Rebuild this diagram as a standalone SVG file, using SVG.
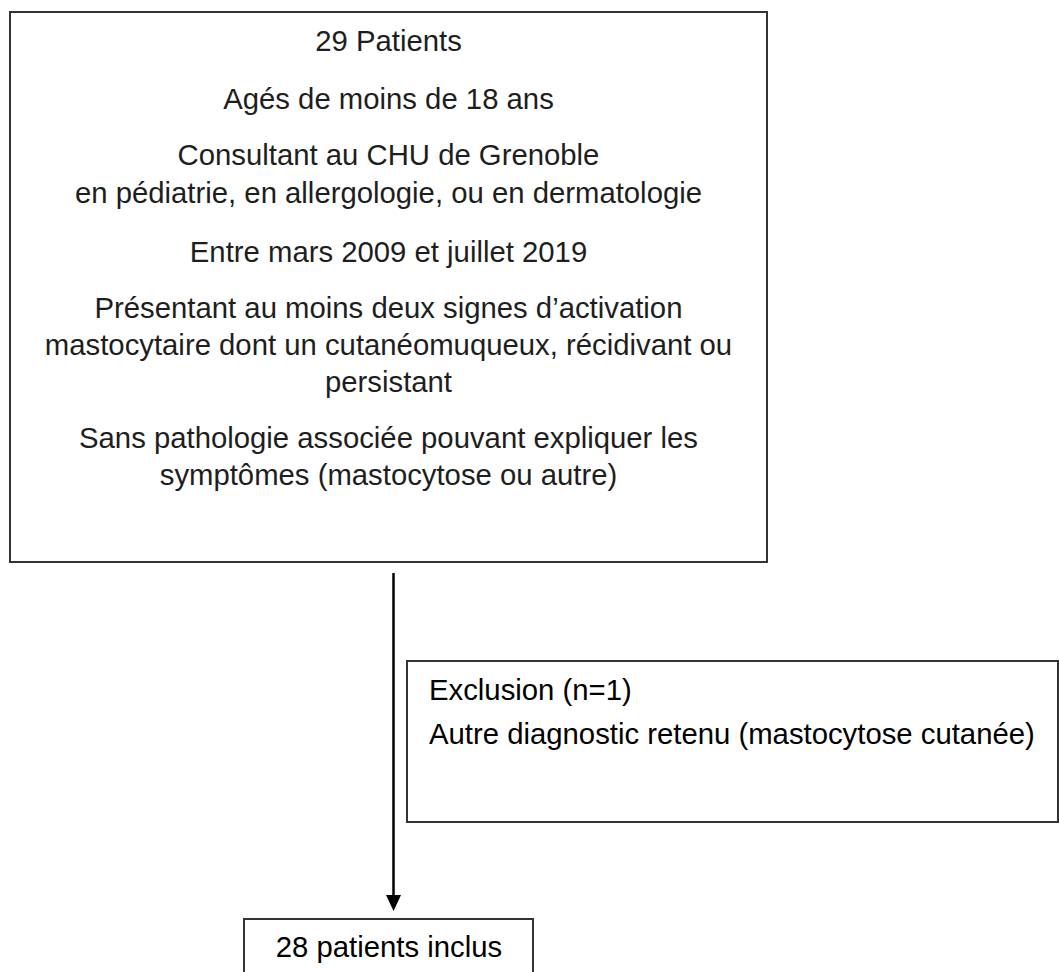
<svg xmlns="http://www.w3.org/2000/svg" width="1059" height="972" viewBox="0 0 1059 972">
<style>
.box{fill:#fff;stroke:#333;stroke-width:2}
.t{font-family:"Liberation Sans",Arial,sans-serif;font-size:29.3px;fill:#1e1e1e}
.c{text-anchor:middle}
.k{fill:#000}
.conn{stroke:#000;stroke-width:2.5;fill:none}
</style>
<defs>
<marker id="arr" markerUnits="userSpaceOnUse" markerWidth="16" markerHeight="17" refX="8" refY="16" orient="auto-start-reverse" viewBox="0 0 16 17">
<path d="M0,0 L16,0 L8,16 Z" fill="#000"/>
</marker>
</defs>
<rect width="1059" height="972" fill="#fff"/>
<g id="connectors">
<line class="conn" x1="393.5" y1="573" x2="393.5" y2="895"/>
<path d="M386,895 L401,895 L393.5,911 Z" fill="#000"/>
</g>
<g id="node-main">
<rect class="box" x="10" y="12" width="757" height="550"/>
<text class="t c" x="388.5" y="51">29 Patients</text>
<text class="t c" x="388.5" y="108.5">Agés de moins de 18 ans</text>
<text class="t c" x="388.5" y="165">Consultant au CHU de Grenoble</text>
<text class="t c" x="388.5" y="203">en pédiatrie, en allergologie, ou en dermatologie</text>
<text class="t c" x="388.5" y="262">Entre mars 2009 et juillet 2019</text>
<text class="t c" x="388.5" y="317.5">Présentant au moins deux signes d’activation</text>
<text class="t c" x="388.5" y="355">mastocytaire dont un cutanéomuqueux, récidivant ou</text>
<text class="t c" x="388.5" y="392">persistant</text>
<text class="t c" x="388.5" y="447.5">Sans pathologie associée pouvant expliquer les</text>
<text class="t c" x="388.5" y="484.5">symptômes (mastocytose ou autre)</text>
</g>
<g id="node-exclusion">
<rect class="box" x="407" y="661" width="651" height="161"/>
<text class="t k" x="429" y="700">Exclusion (n=1)</text>
<text class="t k" x="429" y="743.5">Autre diagnostic retenu (mastocytose cutanée)</text>
</g>
<g id="node-inclus">
<rect class="box" x="244" y="919" width="289" height="60"/>
<text class="t c k" x="389" y="957">28 patients inclus</text>
</g>
</svg>
